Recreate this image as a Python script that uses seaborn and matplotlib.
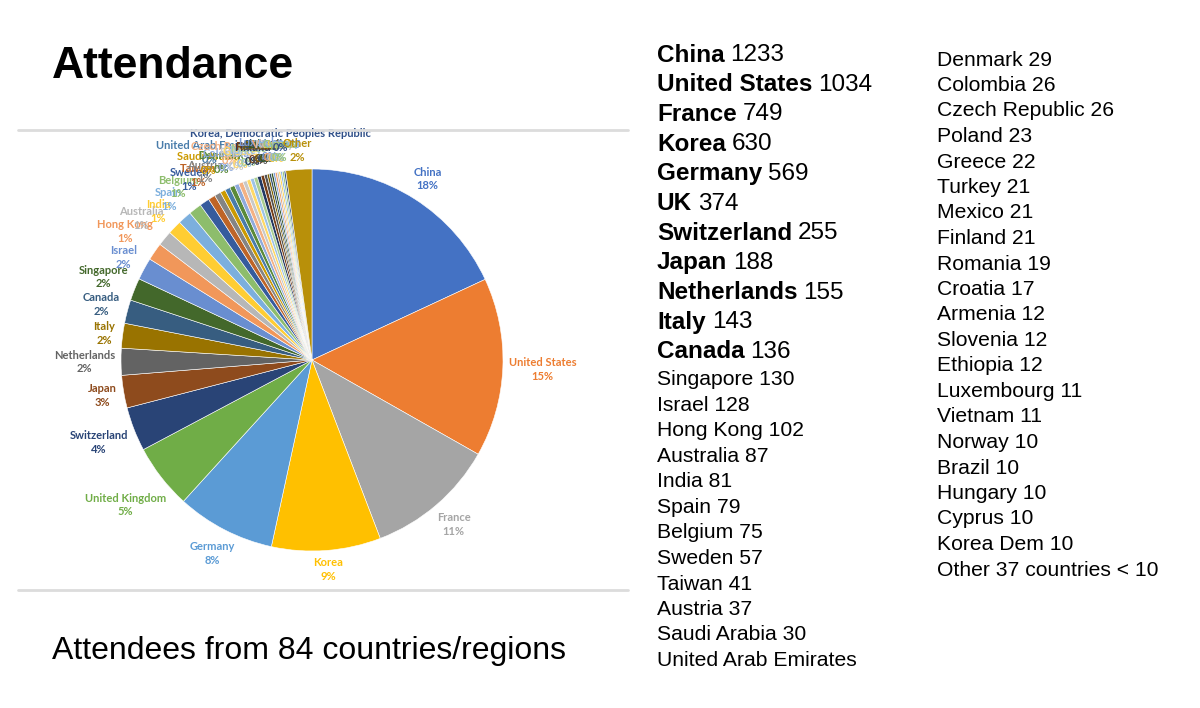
import numpy as np
import matplotlib
matplotlib.use("Agg")
import matplotlib.pyplot as plt
import matplotlib.colors as mcolors
import seaborn as sns

# 국가별 참석자 수 (리스트 순서 = 파이 순서)
countries = ["China", "United States", "France", "Korea", "Germany", "UK", "Switzerland",
             "Japan", "Netherlands", "Italy", "Canada",
             "Singapore", "Israel", "Hong Kong", "Australia", "India", "Spain", "Belgium",
             "Sweden", "Taiwan", "Austria", "Saudi Arabia", "United Arab Emirates",
             "Denmark", "Colombia", "Czech Republic", "Poland", "Greece", "Turkey", "Mexico",
             "Finland", "Romania", "Croatia", "Armenia", "Slovenia", "Ethiopia", "Luxembourg",
             "Vietnam", "Norway", "Brazil", "Hungary", "Cyprus", "Korea Dem", "Other"]
attendees = [1233, 1034, 749, 630, 569, 374, 255, 188, 155, 143, 136,
             130, 128, 102, 87, 81, 79, 75, 57, 41, 37, 30, 30,
             29, 26, 26, 23, 22, 21, 21, 21, 19, 17, 12, 12, 12, 11,
             11, 10, 10, 10, 10, 10, 150]
n_bold = 11
pie_names = {"UK": "United Kingdom", "Korea Dem": "Korea, Democratic Peoples Republic"}
hide_value = ["United Arab Emirates"]
other_text = "Other 37 countries < 10"

sns.set_theme(style="white")
plt.rcParams['font.family'] = ['Liberation Sans', 'DejaVu Sans']
plt.rcParams['text.color'] = 'black'

W, H = 1200, 708
fig = plt.figure(figsize=(12, 7.08), dpi=100)
fig.patch.set_facecolor("white")

def fx(x):
    return x / W

def fy(y):
    return 1 - y / H

# 엑셀 기본 팔레트 흉내 (기본색 + 어둡게/밝게 변형)
base = sns.color_palette(["#4472C4", "#ED7D31", "#A5A5A5", "#FFC000", "#5B9BD5", "#70AD47"])
variants = [("s", 1.0), ("s", 0.6), ("t", 0.2), ("s", 0.8), ("t", 0.4), ("s", 0.5), ("t", 0.3), ("s", 0.7)]

def excel_color(i):
    c = np.array(base[i % 6])
    kind, a = variants[(i // 6) % len(variants)]
    if kind == "s":
        return tuple(c * a)
    return tuple(c + (1 - c) * a)

colors = [excel_color(i) for i in range(len(attendees))]
colors[-1] = mcolors.to_rgb("#B8900A")

# 파이 차트
cx, cy, r_px, lim = 312, 360, 191, 1.6
half = lim * r_px
ax = fig.add_axes([fx(cx - half), fy(cy + half), 2 * half / W, 2 * half / H])
wedges, _ = ax.pie(attendees, colors=colors, startangle=90, counterclock=False,
                   wedgeprops=dict(edgecolor="white", linewidth=0.4))
ax.set_xlim(-lim, lim)
ax.set_ylim(-lim, lim)
ax.axis("off")

fig.canvas.draw()
renderer = fig.canvas.get_renderer()
total = sum(attendees)
for w, name, v, col in zip(wedges, countries, attendees, colors):
    ang = np.deg2rad((w.theta1 + w.theta2) / 2)
    label = pie_names.get(name, name)
    t = ax.text(0, 0, f"{label}\n{round(100 * v / total)}%",
                ha="center", va="center", fontsize=8, color=col, fontweight="bold",
                family=["Lato", "DejaVu Sans"], linespacing=1.3)
    bb = t.get_window_extent(renderer)
    hw, hh = bb.width / 2 / r_px, bb.height / 2 / r_px
    d = 1.03 + hw * abs(np.cos(ang)) + hh * abs(np.sin(ang))
    t.set_position((d * np.cos(ang), d * np.sin(ang)))

# 구분선
for yl in [130, 590]:
    fig.add_artist(plt.Line2D([fx(18), fx(628)], [fy(yl), fy(yl)], color="#DCDCDC", lw=2))

fig.text(fx(52), fy(78), "Attendance", fontsize=32, fontweight="bold")
fig.text(fx(52), fy(651), "Attendees from 84 countries/regions", fontsize=23, va="center")

# 오른쪽 목록
rows = []
for name, v in zip(countries, attendees):
    if name == "Other":
        rows.append((other_text, None))
    elif name in hide_value:
        rows.append((name, None))
    else:
        rows.append((name, v))

col1 = rows[:23]
col2 = rows[23:]

y = 55
for i, (name, v) in enumerate(col1):
    if i < n_bold:
        t = fig.text(fx(657), fy(y), name, fontsize=17.5, fontweight="bold", va="center")
        bb = t.get_window_extent(renderer)
        fig.text(bb.x1 / W + fx(6), fy(y), str(v), fontsize=17.5, va="center")
        y += 29.7
    else:
        txt = name if v is None else f"{name} {v}"
        fig.text(fx(657), fy(y), txt, fontsize=15.2, va="center")
        y += 25.5
    if i == n_bold - 1:
        y += -29.7 + 28

y = 60
for name, v in col2:
    txt = name if v is None else f"{name} {v}"
    fig.text(fx(937), fy(y), txt, fontsize=15.2, va="center")
    y += 25.5

fig.savefig("out.png", dpi=100)
